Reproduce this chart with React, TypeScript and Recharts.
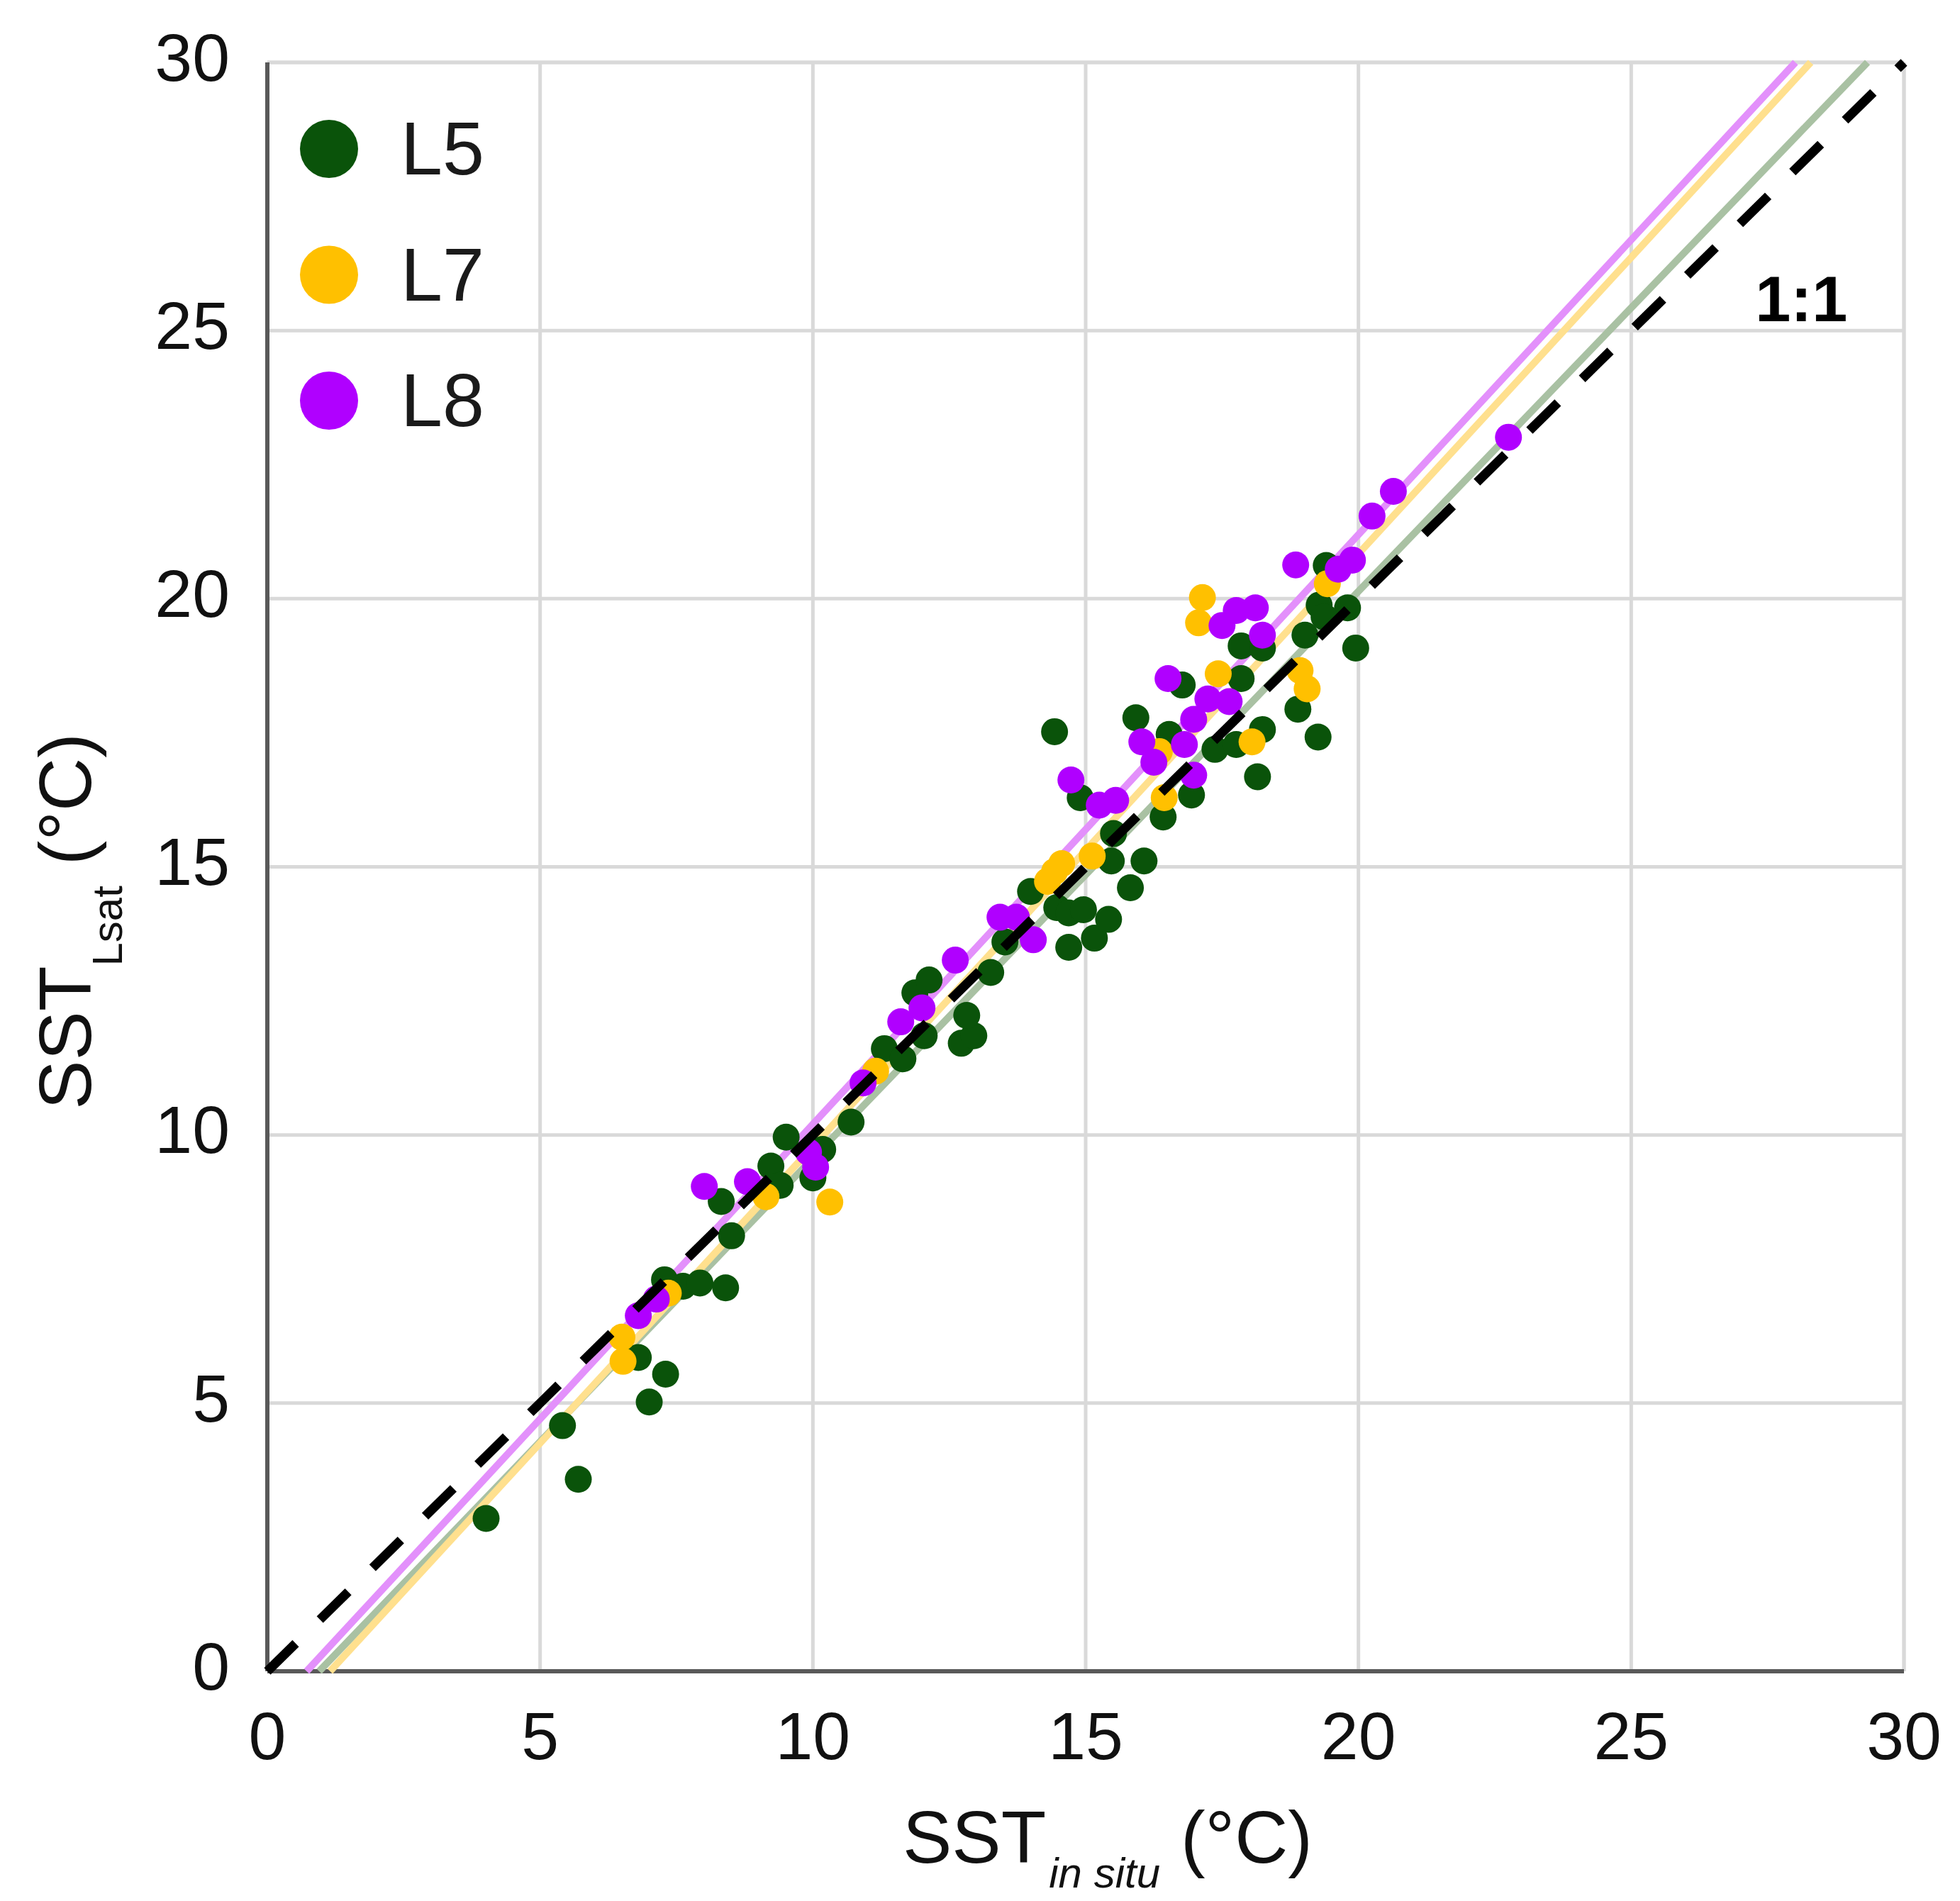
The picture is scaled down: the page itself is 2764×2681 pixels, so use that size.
import React from 'react';
import {
  ScatterChart,
  Scatter,
  XAxis,
  YAxis,
  CartesianGrid,
  ReferenceLine,
  ReferenceDot,
  Legend,
} from 'recharts';

// axis ticks (both axes share 0..30)
const axisTicks = [0, 5, 10, 15, 20, 25, 30];

// SST in situ vs SST Lsat
const l5Points = [
  [4.01, 2.85], [5.41, 4.58], [5.7, 3.58], [6.8, 5.85], [7.0, 5.02], [7.3, 5.54],
  [7.28, 7.3], [7.62, 7.18], [7.93, 7.24], [8.4, 7.15], [8.51, 8.12], [8.32, 8.76],
  [9.23, 9.42], [9.4, 9.06], [9.51, 9.96], [10.0, 9.2], [10.18, 9.73], [10.7, 10.24],
  [11.31, 11.61], [11.65, 11.42], [12.04, 11.85], [11.87, 12.65], [12.13, 12.89],
  [12.72, 11.71], [12.95, 11.85], [12.82, 12.23], [13.26, 13.03], [13.52, 13.6],
  [13.99, 14.54], [14.43, 17.52], [14.47, 14.24], [14.69, 14.14], [14.96, 14.2],
  [14.69, 13.5], [15.16, 13.67], [15.42, 14.02], [15.82, 14.61], [15.47, 15.11],
  [15.51, 15.62], [16.07, 15.11], [14.9, 16.29], [16.42, 15.93], [15.92, 17.78],
  [16.53, 17.47], [16.77, 18.39], [16.94, 16.34], [17.37, 17.19], [17.76, 17.28],
  [18.24, 17.56], [18.15, 16.68], [17.85, 18.51], [17.85, 19.12], [18.24, 19.08],
  [19.02, 19.32], [18.89, 17.94], [19.26, 17.42], [19.41, 20.62], [19.28, 19.88],
  [19.8, 19.83], [19.37, 19.66], [19.95, 19.08],
];

const l7Points = [
  [6.5, 6.23], [6.52, 5.78], [7.35, 7.05], [9.14, 8.85], [10.31, 8.75], [11.15, 11.19],
  [14.3, 14.73], [14.43, 14.91], [14.56, 15.06], [15.12, 15.2], [16.44, 16.29],
  [16.35, 17.15], [17.07, 19.55], [17.14, 20.02], [17.43, 18.6], [18.05, 17.33],
  [18.93, 18.66], [19.06, 18.32], [19.43, 20.28],
];

const l8Points = [
  [6.8, 6.63], [7.13, 6.94], [8.01, 9.04], [8.8, 9.13], [10.05, 9.4], [9.92, 9.68],
  [10.92, 10.97], [11.61, 12.11], [12.0, 12.37], [12.61, 13.26], [13.43, 14.06],
  [13.73, 14.06], [14.04, 13.64], [14.73, 16.62], [15.25, 16.15], [15.55, 16.24],
  [16.03, 17.33], [16.25, 16.95], [16.51, 18.51], [16.81, 17.28], [16.98, 17.75],
  [17.24, 18.13], [16.98, 16.71], [17.63, 18.08], [17.5, 19.5], [17.76, 19.78],
  [18.11, 19.83], [18.24, 19.32], [18.85, 20.63], [19.63, 20.55], [19.89, 20.72],
  [20.25, 21.54], [20.64, 22.0], [22.75, 23.01],
];

// regression lines, end points where they leave the plot
const fitL5 = [[0.95, 0], [29.33, 30]];
const fitL7 = [[1.15, 0], [28.29, 30]];
const fitL8 = [[0.72, 0], [28.01, 30]];
const oneToOne = [[0, 0], [30, 30]];
const oneToOneLabelAt = [28.12, 25.18];

const series = [
  { name: 'L5', points: l5Points, color: '#0a530a', fit: fitL5, fitColor: '#a9c1a3' },
  { name: 'L7', points: l7Points, color: '#ffc000', fit: fitL7, fitColor: '#ffe08e' },
  { name: 'L8', points: l8Points, color: '#b000ff', fit: fitL8, fitColor: '#e390fb' },
];

const FONT = '"Liberation Sans", Arial, sans-serif';
const TICK_FS = 95;
const TITLE_FS = 104;
const SUB_FS = 60;

const W = 2764;
const H = 2681;
const Y_AXIS_W = 120;
const X_AXIS_H = 100;
const margin = { top: 88, right: 79, bottom: 224, left: 257 };
const plotLeft = margin.left + Y_AXIS_W;
const plotBottom = H - margin.bottom - X_AXIS_H;
const plotTop = margin.top;

const toXY = (pts: number[][]) => pts.map(([x, y]) => ({ x, y }));

const YTick = (props: any) => {
  const { x, y, payload } = props;
  return (
    <text x={x} y={y + 0.355 * TICK_FS - 8} textAnchor="end" fontSize={TICK_FS} fontFamily={FONT} fill="#111">
      {payload.value}
    </text>
  );
};

const XTick = (props: any) => {
  const { x, y, payload } = props;
  return (
    <text x={x} y={y + 0.716 * TICK_FS} textAnchor="middle" fontSize={TICK_FS} fontFamily={FONT} fill="#111">
      {payload.value}
    </text>
  );
};

const XTitle = () => (
  <text x={1273} y={plotBottom + 270} fontSize={TITLE_FS} fontFamily={FONT} fill="#111">
    <tspan>SST</tspan>
    <tspan fontSize={SUB_FS} fontStyle="italic" dy={35} dx={4}>in situ</tspan>
    <tspan dy={-35}> (°C)</tspan>
  </text>
);

const YTitle = () => (
  <text
    transform={`translate(128, ${(plotTop + plotBottom) / 2 + 77}) rotate(-90)`}
    textAnchor="middle"
    fontSize={TITLE_FS}
    fontFamily={FONT}
    fill="#111"
  >
    <tspan>SST</tspan>
    <tspan fontSize={SUB_FS} dy={44}>Lsat</tspan>
    <tspan dy={-44}> (°C)</tspan>
  </text>
);

const LegendBox = () => (
  <svg width={420} height={480}>
    {series.map((s, i) => (
      <g key={s.name}>
        <circle cx={64} cy={60 + i * 177.5} r={41} fill={s.color} />
        <text x={165} y={60 + i * 177.5 + 36} fontSize={106} fontFamily={FONT} fill="#1a1a1a">
          {s.name}
        </text>
      </g>
    ))}
  </svg>
);

export default function App() {
  return (
    <div style={{ position: 'absolute', left: 0, top: 0, width: W, height: H, background: '#fff' }}>
      <ScatterChart width={W} height={H} margin={margin}>
        <CartesianGrid stroke="#d9d9d9" strokeWidth={5} />
        <XAxis
          type="number"
          dataKey="x"
          domain={[0, 30]}
          ticks={axisTicks}
          interval={0}
          height={X_AXIS_H}
          tickSize={0}
          tickMargin={56}
          tickLine={false}
          axisLine={{ stroke: '#595959', strokeWidth: 6 }}
          tick={XTick}
          label={{ content: () => <XTitle /> }}
        />
        <YAxis
          type="number"
          dataKey="y"
          domain={[0, 30]}
          ticks={axisTicks}
          interval={0}
          width={Y_AXIS_W}
          tickSize={0}
          tickMargin={53}
          tickLine={false}
          axisLine={{ stroke: '#595959', strokeWidth: 6 }}
          tick={YTick}
          label={{ content: () => <YTitle /> }}
        />
        <ReferenceLine y={30} stroke="#d9d9d9" strokeWidth={5} />
        <ReferenceLine x={30} stroke="#d9d9d9" strokeWidth={5} />
        {series.map((s) => (
          <ReferenceLine
            key={`fit-${s.name}`}
            segment={toXY(s.fit)}
            stroke={s.fitColor}
            strokeWidth={10}
            zIndex={550}
          />
        ))}
        {series.map((s) => (
          <Scatter
            key={s.name}
            name={s.name}
            data={toXY(s.points)}
            fill={s.color}
            isAnimationActive={false}
            shape={(p: any) => <circle cx={p.cx} cy={p.cy} r={19} fill={s.color} />}
          />
        ))}
        <ReferenceLine
          segment={toXY(oneToOne)}
          stroke="#000"
          strokeWidth={13}
          strokeDasharray="56 48"
          zIndex={700}
        />
        <ReferenceDot
          x={oneToOneLabelAt[0]}
          y={oneToOneLabelAt[1]}
          r={0}
          zIndex={700}
          shape={(p: any) => (
            <text x={p.cx} y={p.cy} textAnchor="middle" fontSize={90} fontWeight="bold" fontFamily={FONT} fill="#000">
              1:1
            </text>
          )}
        />
        <Legend
          layout="vertical"
          align="center"
          verticalAlign="middle"
          wrapperStyle={{ left: 400, top: 150, width: 420, height: 480 }}
          content={() => <LegendBox />}
        />
      </ScatterChart>
    </div>
  );
}
